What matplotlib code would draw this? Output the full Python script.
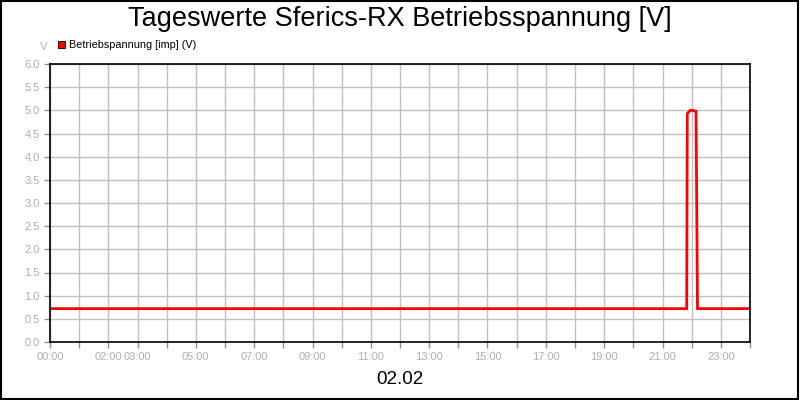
import matplotlib
matplotlib.use("Agg")
import matplotlib.pyplot as plt
from matplotlib.patches import Rectangle

plt.rcParams['font.family'] = ['Liberation Sans', 'DejaVu Sans']

# data (hours of day, volts)
times = [0.0, 21.83, 21.85, 21.95, 22.0, 22.15, 22.2, 24.0]
volts = [0.72, 0.72, 4.93, 5.0, 5.0, 4.98, 0.72, 0.72]
tick_hours = [0, 2, 3, 5, 7, 9, 11, 13, 15, 17, 19, 21, 23]
tick_labels = ["00:00", "02:00", "03:00", "05:00", "07:00", "09:00", "11:00",
               "13:00", "15:00", "17:00", "19:00", "21:00", "23:00"]
y_ticks = [0.0, 0.5, 1.0, 1.5, 2.0, 2.5, 3.0, 3.5, 4.0, 4.5, 5.0, 5.5, 6.0]

fig = plt.figure(figsize=(8, 4), dpi=100)
fig.patch.set_facecolor('white')
fig.add_artist(Rectangle((0.001, 0.002), 0.997, 0.995, transform=fig.transFigure,
                         fill=False, edgecolor='black', linewidth=1.5))

ax = fig.add_axes([0.0625, 0.145, 0.875, 0.695])
ax.plot(times, volts, color='#ff0000', linewidth=2, solid_joinstyle='miter')
ax.set_xlim(0, 24)
ax.set_ylim(0, 6)

ax.set_xticks(range(0, 25), minor=True)
ax.set_xticks(tick_hours)
ax.set_xticklabels(tick_labels)
ax.set_yticks(y_ticks)
ax.set_yticklabels([f"{v:.1f}" for v in y_ticks])
ax.grid(True, which='both', axis='x', color='#c0c0c0', linewidth=1)
ax.grid(True, which='major', axis='y', color='#c0c0c0', linewidth=1)
ax.set_axisbelow(True)
ax.tick_params(axis='both', which='both', colors='#909090', labelcolor='#b0b0b0',
               labelsize=8, length=4, width=1, direction='out')
ax.tick_params(axis='x', which='minor', length=4)
for s in ax.spines.values():
    s.set_color('black')
    s.set_linewidth(1.2)

fig.text(0.5, 0.953, "Tageswerte Sferics-RX Betriebsspannung [V]", ha='center', va='center',
         fontsize=19.5, color='black')
fig.text(0.5, 0.05, "02.02", ha='center', va='center', fontsize=13.5, color='black')
fig.text(0.055, 0.882, "V", ha='center', va='center', fontsize=8, color='#b0b0b0')
fig.add_artist(Rectangle((58/800, 1 - 48/400), 7/800, 7/400, transform=fig.transFigure,
                         facecolor='#ff0000', edgecolor='black', linewidth=0.6))
fig.text(69/800, 1 - 44.5/400, "Betriebspannung [imp] (V)", ha='left', va='center',
         fontsize=7.8, color='black')

fig.savefig("out.png", dpi=100)
